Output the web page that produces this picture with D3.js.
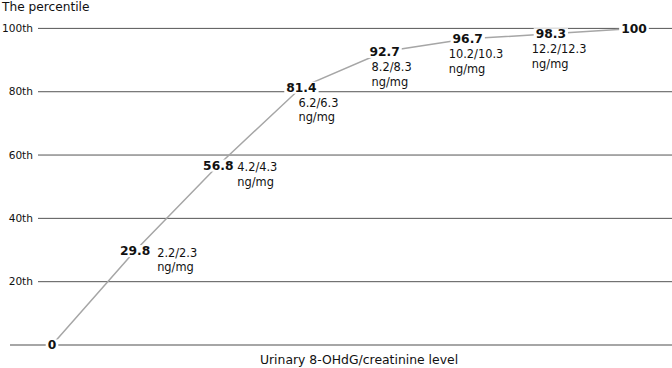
<!DOCTYPE html>
<html>
<head>
<meta charset="utf-8">
<script src="https://cdn.jsdelivr.net/npm/d3@7"></script>
<style>
body { margin: 0; background: #fff; }
text { font-family: "DejaVu Sans", Verdana, sans-serif; fill: #111; }
</style>
</head>
<body>
<svg id="chart" width="672" height="368"></svg>
<script>
const percentiles = [0, 29.8, 56.8, 81.4, 92.7, 96.7, 98.3, 100];
const levels = ["", "2.2/2.3", "4.2/4.3", "6.2/6.3", "8.2/8.3", "10.2/10.3", "12.2/12.3", ""];
const unit = "ng/mg";
const yTicks = [20, 40, 60, 80, 100];

const svg = d3.select("#chart"),
  width = +svg.attr("width");

const x = d3.scalePoint()
  .domain(d3.range(percentiles.length))
  .range([52, 634]);

const y = d3.scaleLinear()
  .domain([0, 100])
  .range([345, 28.4]);

// grid lines
svg.append("g")
  .selectAll("line")
  .data(yTicks)
  .join("line")
  .attr("x1", 38).attr("x2", width)
  .attr("y1", d => y(d)).attr("y2", d => y(d))
  .attr("stroke", "#555").attr("stroke-width", 1);

svg.append("g")
  .selectAll("text")
  .data(yTicks)
  .join("text")
  .attr("x", 33).attr("y", d => y(d))
  .attr("dy", "0.33em")
  .attr("text-anchor", "end")
  .style("font-size", "10.6px")
  .text(d => d + "th");

// baseline
svg.append("line")
  .attr("x1", 10).attr("x2", width)
  .attr("y1", y(0)).attr("y2", y(0))
  .attr("stroke", "#888").attr("stroke-width", 1.6);

// curve
svg.append("path")
  .datum(percentiles)
  .attr("fill", "none")
  .attr("stroke", "#a6a6a6")
  .attr("stroke-width", 1.5)
  .attr("d", d3.line().x((d, i) => x(i)).y(d => y(d)));

// value labels with white backing
const lab = svg.append("g")
  .selectAll("g")
  .data(percentiles)
  .join("g")
  .attr("transform", (d, i) => `translate(${x(i)},${y(d)})`);

lab.append("text")
  .attr("text-anchor", "middle")
  .attr("dy", "0.36em")
  .style("font-size", "12.3px")
  .style("font-weight", "bold")
  .text(d => d);

lab.each(function () {
  const g = d3.select(this);
  const b = g.select("text").node().getBBox();
  g.insert("rect", "text")
    .attr("x", b.x - 2).attr("y", b.y + 1)
    .attr("width", b.width + 4).attr("height", b.height - 2)
    .attr("fill", "#fff");
});

// concentration labels: right of the value for the first two, below for the rest
const subDx = [0, 22, 19, -3, -13, -19, -19, 0];
const subX = d => x(d.i) + subDx[d.i];

const sub = svg.append("g")
  .selectAll("text")
  .data(levels.map((t, i) => ({ t, i })).filter(d => d.t))
  .join("text")
  .style("font-size", "11.4px")
  .attr("x", subX)
  .attr("y", d => y(percentiles[d.i]) + (d.i < 3 ? 6 : 19.5));

sub.append("tspan").text(d => d.t);
sub.append("tspan")
  .attr("x", subX)
  .attr("dy", 14.5)
  .text(unit);

// titles
svg.append("text")
  .attr("x", 2).attr("y", 10.5)
  .style("font-size", "12.2px")
  .text("The percentile");

svg.append("text")
  .attr("x", 359).attr("y", 364)
  .attr("text-anchor", "middle")
  .style("font-size", "12.4px")
  .text("Urinary 8-OHdG/creatinine level");
</script>
</body>
</html>
